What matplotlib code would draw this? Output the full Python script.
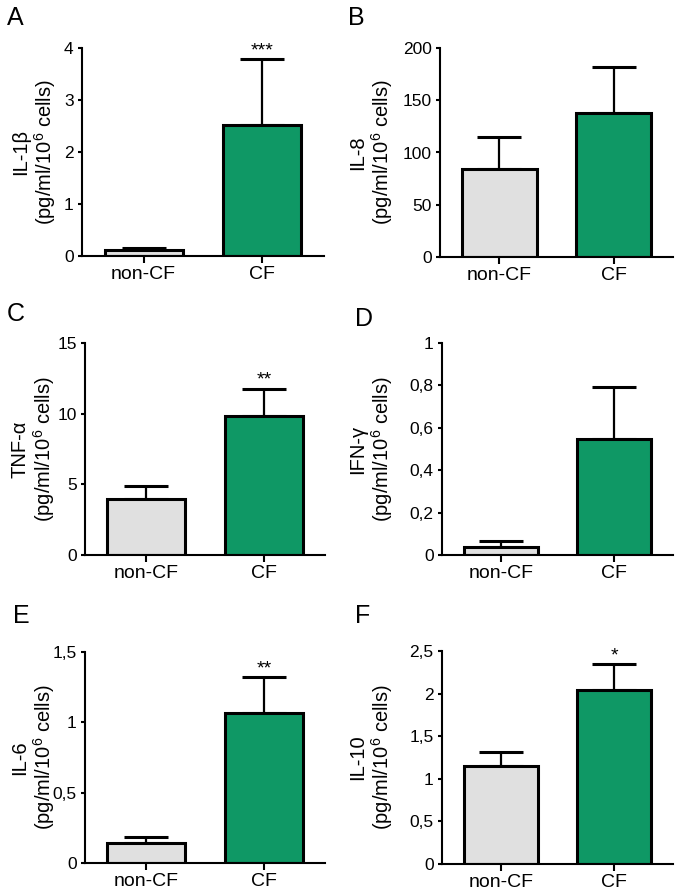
import numpy as np
import matplotlib
matplotlib.use("Agg")
import matplotlib.pyplot as plt
from matplotlib.ticker import FuncFormatter, MultipleLocator

plt.rcParams['font.family'] = ['Liberation Sans', 'DejaVu Sans']
plt.rcParams['mathtext.default'] = 'regular'

# data (mean and upper error)
groups = ['non-CF', 'CF']
panel_letters = ['A', 'B', 'C', 'D', 'E', 'F']
cytokines = ['IL-1β', 'IL-8', 'TNF-α', 'IFN-γ', 'IL-6', 'IL-10']
noncf_mean = [0.115, 83.8, 3.94, 0.039, 0.143, 1.15]
noncf_err = [0.035, 30.8, 0.95, 0.027, 0.042, 0.168]
cf_mean = [2.52, 137.6, 9.80, 0.548, 1.065, 2.046]
cf_err = [1.26, 43.8, 1.96, 0.244, 0.255, 0.297]
y_max = [4, 200, 15, 1, 1.5, 2.5]
y_step = [1, 50, 5, 0.2, 0.5, 0.5]
stars = ['***', '', '**', '', '**', '*']

bar_colors = ['#e0e0e0', '#0f9865']

W, H = 683, 896
# axes boxes in pixels: left, top, right, bottom
boxes = [(82, 48, 324, 256), (440, 48, 673, 257),
         (85, 343, 325, 555), (442, 343, 673, 555),
         (85, 652, 325, 863), (442, 651, 673, 864)]
# distance from y axis to the right edge of the y label, pixels
label_off = [24, 45, 28, 47, 28, 47]
# panel letter top-left corners in pixels
letter_pos = [(7, 6), (348, 6), (7, 302), (355, 307), (13, 604), (355, 604)]


def comma_fmt(v, pos):
    return ('%g' % round(v, 6)).replace('.', ',')


fig = plt.figure(figsize=(W / 100, H / 100), dpi=100)

for i in range(6):
    l, t, r, b = boxes[i]
    ax = fig.add_axes([l / W, 1 - b / H, (r - l) / W, (b - t) / H])
    x = np.arange(len(groups))
    means = [noncf_mean[i], cf_mean[i]]
    errs = [noncf_err[i], cf_err[i]]
    ax.errorbar(x, means, yerr=[[0, 0], errs], fmt='none', ecolor='black',
                elinewidth=1.6, capsize=16, capthick=2.2, zorder=1)
    ax.bar(x, means, width=0.66, color=bar_colors, edgecolor='black',
           linewidth=2.2, zorder=2)
    if stars[i]:
        ax.annotate(stars[i], (1, cf_mean[i] + cf_err[i]), xytext=(0, 0),
                    textcoords='offset points', ha='center', va='bottom',
                    fontsize=14)
    ax.set_xlim(-0.52, 1.52)
    ax.set_ylim(0, y_max[i])
    ax.yaxis.set_major_locator(MultipleLocator(y_step[i]))
    ax.yaxis.set_major_formatter(FuncFormatter(comma_fmt))
    ax.set_xticks(x)
    ax.set_xticklabels(groups)
    for s in ['top', 'right']:
        ax.spines[s].set_visible(False)
    for s in ['left', 'bottom']:
        ax.spines[s].set_linewidth(1.5)
    ax.tick_params(direction='out', width=1.5)
    ax.tick_params(axis='y', labelsize=12.5, length=3, pad=3)
    ax.tick_params(axis='x', labelsize=14, length=5, pad=2)
    ax.set_ylabel(cytokines[i] + '\n(pg/ml/10$^{6}$ cells)', fontsize=14.5,
                  linespacing=1.1)
    ax.yaxis.set_label_coords(-label_off[i] / (r - l), 0.5)
    lx, ly = letter_pos[i]
    fig.text(lx / W, 1 - ly / H, panel_letters[i], fontsize=18,
             ha='left', va='top')

fig.savefig('out.png', dpi=100)
